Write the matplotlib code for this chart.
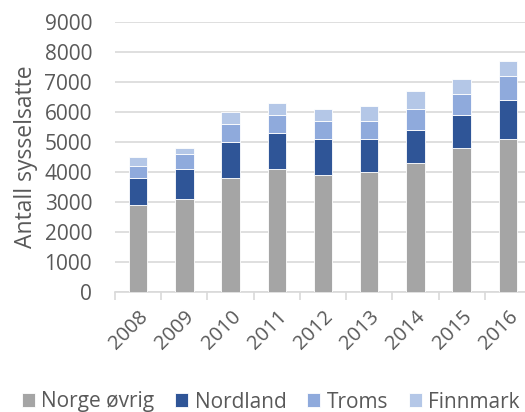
import matplotlib
matplotlib.use('Agg')
import matplotlib.pyplot as plt
import numpy as np

years = ['2008', '2009', '2010', '2011', '2012', '2013', '2014', '2015', '2016']
norge_ovrig = [2900, 3100, 3800, 4100, 3900, 4000, 4300, 4800, 5100]
nordland = [900, 1000, 1200, 1200, 1200, 1100, 1100, 1100, 1300]
troms = [400, 500, 600, 600, 600, 600, 700, 700, 800]
finnmark = [300, 200, 400, 400, 400, 500, 600, 500, 500]

series = [
    ('Norge øvrig', norge_ovrig, '#A5A5A5'),
    ('Nordland', nordland, '#2F5597'),
    ('Troms', troms, '#8FAADC'),
    ('Finnmark', finnmark, '#B4C7E7'),
]

plt.rcParams['font.family'] = ['Open Sans', 'DejaVu Sans']
text_color = '#595959'
grid_color = '#D9D9D9'

fig = plt.figure(figsize=(5.25, 4.12), dpi=100)
ax = fig.add_axes([115 / 525, 1 - 291.5 / 412, 416 / 525, (291.5 - 21.7) / 412])

x = np.arange(len(years))
bottom = np.zeros(len(years))
for name, vals, color in series:
    ax.bar(x, vals, 0.4, bottom=bottom, color=color, edgecolor='white',
           linewidth=0.6, label=name, zorder=3)
    bottom += np.array(vals)

ax.set_xlim(-0.5, len(years) - 0.5)
ax.set_ylim(0, 9000)
ax.set_yticks(range(0, 9001, 1000))
ax.yaxis.grid(True, color=grid_color, linewidth=1.2, zorder=0)
ax.set_axisbelow(True)

for side in ['top', 'right', 'left']:
    ax.spines[side].set_visible(False)
ax.spines['bottom'].set_color(grid_color)
ax.spines['bottom'].set_linewidth(1.2)

# category separators as major ticks, year labels on minor ticks
ax.set_xticks(np.arange(-0.5, len(years), 1), minor=False)
ax.set_xticklabels([])
ax.set_xticks(x, minor=True)
ax.set_xticklabels(years, minor=True, rotation=45, ha='right', va='top',
                   rotation_mode='anchor', fontsize=14.5, color=text_color)
ax.tick_params(axis='x', which='major', length=6, width=1.2, color=grid_color)
ax.tick_params(axis='x', which='minor', length=0, pad=11)
ax.tick_params(axis='y', length=0, pad=16.5, labelsize=15, labelcolor=text_color)

ax.set_ylabel('Antall sysselsatte', fontsize=16.5, color=text_color, labelpad=5)

fig.legend(loc='center left', bbox_to_anchor=(22 / 525, 1 - 402 / 412), ncol=4,
           frameon=False, fontsize=15, handlelength=0.63, handleheight=0.63,
           handletextpad=0.3, columnspacing=1.0, labelcolor=text_color,
           borderaxespad=0, borderpad=0)

fig.savefig('out.png', dpi=100)
